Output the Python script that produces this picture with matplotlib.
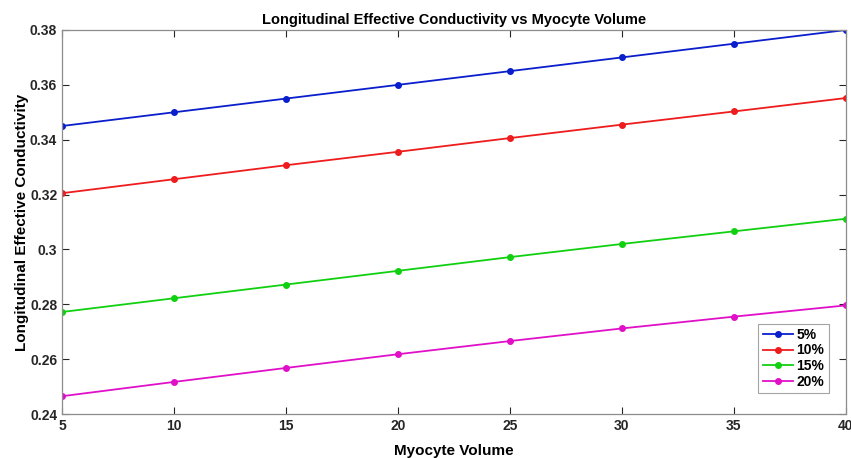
import matplotlib

matplotlib.use("Agg")
import matplotlib.pyplot as plt

plt.rcParams["font.family"] = ["Liberation Sans", "DejaVu Sans"]
plt.rcParams["font.weight"] = "bold"

volume = [5, 10, 15, 20, 25, 30, 35, 40]
labels = ["5%", "10%", "15%", "20%"]
series = [
    [0.345, 0.350, 0.355, 0.360, 0.365, 0.370, 0.375, 0.380],
    [0.3205, 0.3256, 0.3307, 0.3356, 0.3406, 0.3455, 0.3503, 0.3552],
    [0.2772, 0.2822, 0.2872, 0.2922, 0.2972, 0.3020, 0.3066, 0.3112],
    [0.2465, 0.2517, 0.2568, 0.2618, 0.2666, 0.2712, 0.2755, 0.2796],
]
colors = ["#0a1ecc", "#ee1c1c", "#10d010", "#e010c8"]

fig = plt.figure(figsize=(8.51, 4.58), dpi=100)
ax = fig.add_axes([0.0729, 0.096, 0.9211, 0.8385])

for vals, lab, col in zip(series, labels, colors):
    ax.plot(volume, vals, "-o", color=col, lw=1.3, ms=4, label=lab)

ax.set_xlim(5, 40)
ax.set_ylim(0.24, 0.38)
ax.set_xticks(volume)
ax.set_yticks([0.24, 0.26, 0.28, 0.30, 0.32, 0.34, 0.36, 0.38])
ax.set_yticklabels(["0.24", "0.26", "0.28", "0.3", "0.32", "0.34", "0.36", "0.38"])
ax.tick_params(direction="in", top=True, right=True, labelsize=10, colors="#262626", length=5, width=0.8)
for lbl in ax.get_xticklabels() + ax.get_yticklabels():
    lbl.set_fontweight("bold")
    lbl.set_color("#262626")
for sp in ax.spines.values():
    sp.set_color("#8c8c8c")
    sp.set_linewidth(0.9)

ax.set_title("Longitudinal Effective Conductivity vs Myocyte Volume", fontsize=10.5, fontweight="bold", pad=4)
ax.set_xlabel("Myocyte Volume", fontsize=11, fontweight="bold", labelpad=8)
ax.set_ylabel("Longitudinal Effective Conductivity", fontsize=11, fontweight="bold", labelpad=1)

leg = ax.legend(loc="lower right", bbox_to_anchor=(0.978, 0.055), borderaxespad=0, fontsize=10,
                frameon=True, fancybox=False, edgecolor="#8c8c8c", handlelength=2.2, borderpad=0.3,
                labelspacing=0.12, handletextpad=0.25)
leg.get_frame().set_linewidth(0.8)

fig.savefig("out.png", dpi=100)
